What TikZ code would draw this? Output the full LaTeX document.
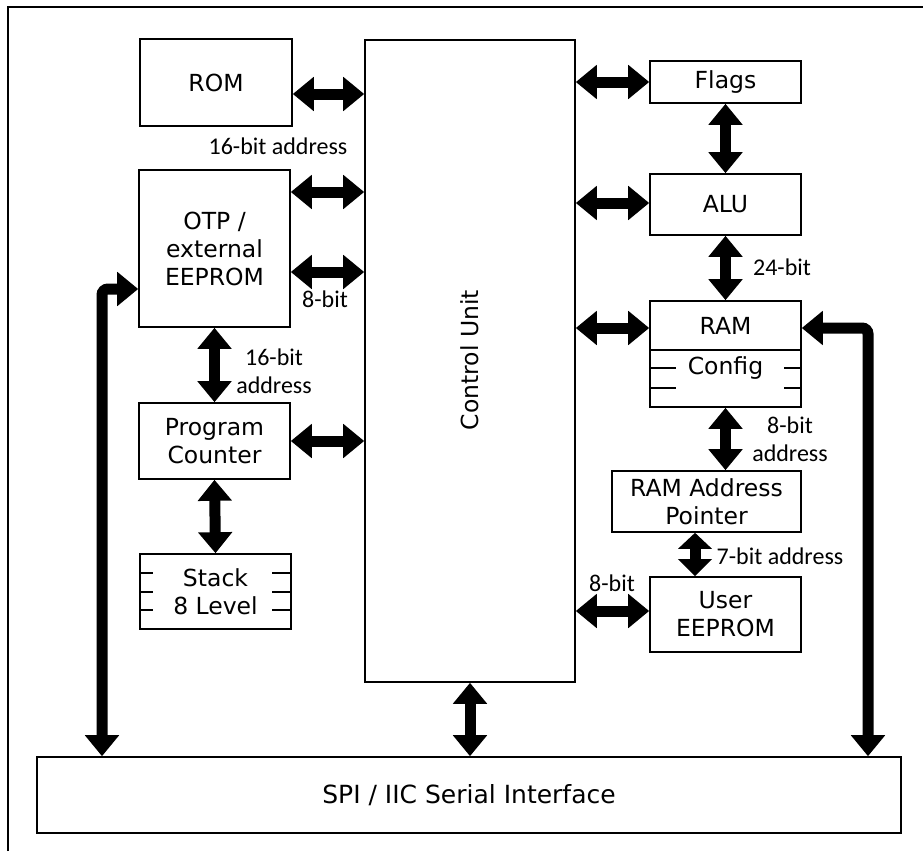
\documentclass[tikz,border=0pt]{standalone}
\usepackage{fontspec}
\setmainfont{DejaVu Sans}
\newfontfamily\lblfont{Carlito}
\usetikzlibrary{arrows.meta}
\begin{document}
\begin{tikzpicture}[x=1pt,y=-1pt,
  box/.style={draw, line width=1.6pt, inner sep=0pt, align=center,
    font=\fontsize{23.5}{28}\selectfont},
  txt/.style={inner sep=0pt, align=center, font=\fontsize{23.5}{28}\selectfont},
  dbl/.style={line width=11pt,
    {Triangle[width=33pt,length=21pt]}-{Triangle[width=33pt,length=21pt]}},
  dblshort/.style={line width=11pt,
    {Triangle[width=33pt,length=16pt]}-{Triangle[width=33pt,length=17pt]}},
  lbl/.style={font=\lblfont\fontsize{24}{28}\selectfont, inner sep=0pt, align=center},
  tick/.style={line width=1.6pt}]
\useasboundingbox (0,0) rectangle (923,851);
\draw[line width=2.5pt] (8,851) -- (8,7) -- (923,7);

% boxes
\node[box, minimum width=152pt, minimum height=87pt] (rom) at (216,82.5) {ROM};
\node[box, minimum width=210pt, minimum height=642pt] (cu) at (470,361) {};
\node[txt, rotate=90] (cutxt) at (470,360) {Control Unit};
\node[box, minimum width=151pt, minimum height=157pt] (otp) at (214.5,248.5) {OTP /\\external\\EEPROM};
\node[box, minimum width=151pt, minimum height=76pt] (pc) at (214.5,441) {Program\\Counter};
\node[box, minimum width=151pt, minimum height=75pt] (stack) at (215.5,591.5) {Stack\\8 Level};
\node[box, minimum width=151pt, minimum height=42pt] (flags) at (725.5,82) {Flags};
\node[box, minimum width=151pt, minimum height=61pt] (alu) at (725.5,204.5) {ALU};
\node[box, minimum width=151pt, minimum height=49pt] (ram) at (725.5,325.5) {RAM};
\node[box, minimum width=151pt, minimum height=57pt] (cfg) at (725.5,378.5) {};
\node[txt] (cfgtxt) at (725.5,368) {Config};
\node[box, minimum width=189pt, minimum height=61pt] (rap) at (706.5,501.5) {RAM Address\\Pointer};
\node[box, minimum width=151pt, minimum height=75pt] (ue) at (725.5,614.5) {User\\EEPROM};
\node[box, minimum width=864pt, minimum height=76pt, font=\fontsize{25}{28}\selectfont] (spi) at (469,795) {SPI / IIC Serial Interface};

% ticks in stack and config
\foreach \yy in {573,592,610}{
  \draw[tick] (stack.west|-0,\yy) -- ++(14,0);
  \draw[tick] (stack.east|-0,\yy) -- ++(-20,0);
}
\foreach \yy in {368,388}{
  \draw[tick] (cfg.west|-0,\yy) -- ++(27,0);
  \draw[tick] (cfg.east|-0,\yy) -- ++(-18,0);
}

% horizontal arrows, left
\draw[dbl] (rom.east|-0,94) -- (cu.west|-0,94);
\draw[dbl] (otp.east|-0,192) -- (cu.west|-0,192);
\draw[dbl] (otp.east|-0,272) -- (cu.west|-0,272);
\draw[dbl] (pc.east) -- (pc.east-|cu.west);
% horizontal arrows, right
\draw[dbl] (cu.east|-flags.west) -- (flags.west);
\draw[dbl] (cu.east|-0,203) -- (alu.west|-0,203);
\draw[dbl] (cu.east|-0,328) -- (ram.west|-0,328);
\draw[dbl] (cu.east|-0,611) -- (ue.west|-0,611);
% vertical arrows
\draw[dbl] (flags.south) -- (alu.north);
\draw[dbl] (alu.south) -- (ram.north);
\draw[dbl] (cfg.south) -- (cfg.south|-rap.north);
\draw[dblshort] (rap.south-|695,0) -- (ue.north-|695,0);
\draw[dbl] (otp.south) -- (pc.north);
\draw[dbl] (pc.south) -- (stack.north);
\draw[dbl] (cu.south) -- (cu.south|-spi.north);
% bent arrows to serial interface
\draw[dbl, rounded corners=6pt] (otp.west|-0,289) -- (102,289) -- (spi.north-|102,0);
\draw[dbl, rounded corners=6pt] (ram.east|-0,328) -- (868,328) -- (spi.north-|868,0);

% labels
\node[lbl] (l1) at (278,146) {16-bit address};
\node[lbl] (l2) at (325,299) {8-bit};
\node[lbl] (l3) at (274,371) {16-bit\\address};
\node[lbl] (l4) at (782,267) {24-bit};
\node[lbl] (l5) at (790,439) {8-bit\\address};
\node[lbl] (l6) at (780,556) {7-bit address};
\node[lbl] (l7) at (612,583) {8-bit};
\end{tikzpicture}
\end{document}
